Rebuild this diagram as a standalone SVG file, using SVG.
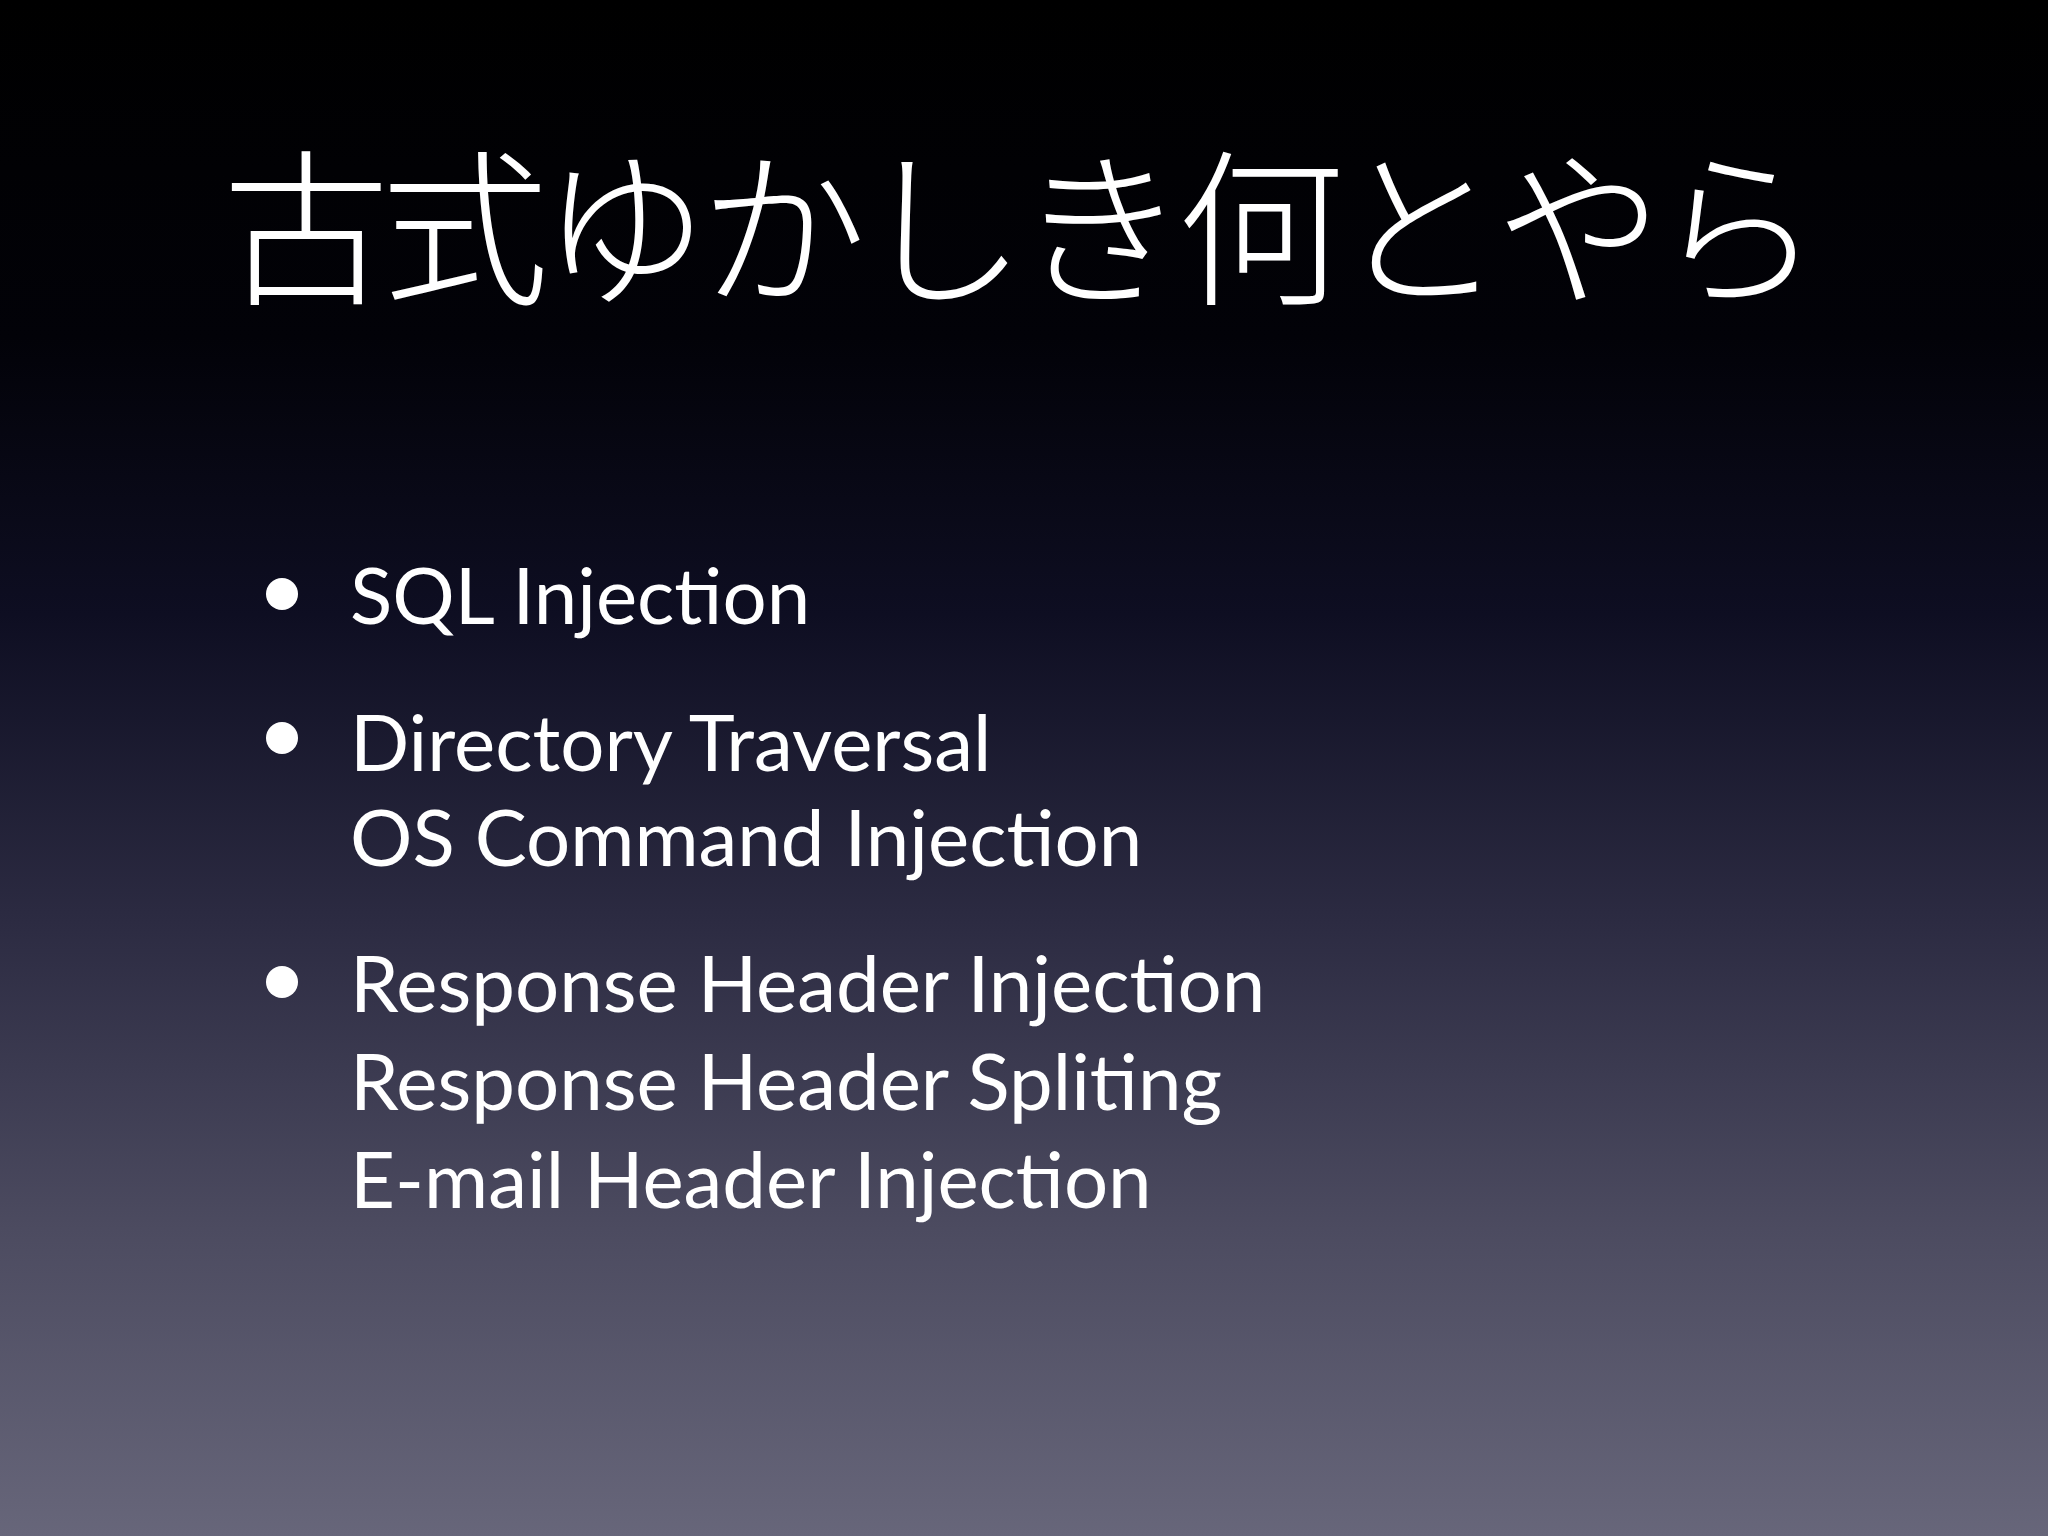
<svg xmlns="http://www.w3.org/2000/svg" width="2048" height="1536" viewBox="0 0 2048 1536">
<defs>
<linearGradient id="bg" x1="0" y1="0" x2="0" y2="1">
<stop offset="0" stop-color="#000000"/>
<stop offset="0.22" stop-color="#020208"/>
<stop offset="0.4" stop-color="#0e0e22"/>
<stop offset="0.6" stop-color="#2c2b42"/>
<stop offset="0.8" stop-color="#4c4b60"/>
<stop offset="1" stop-color="#67667a"/>
</linearGradient>
<style>
.t{fill:#fff;font-family:"Lato","Open Sans","Noto Sans",sans-serif;font-size:78px}
.h{fill:#fff;font-family:"Noto Sans CJK JP",sans-serif;font-size:168px;font-weight:300}
</style>
</defs>
<rect width="2048" height="1536" fill="url(#bg)"/>
<g id="title"><text class="h" x="222" y="292" textLength="1600">古式ゆかしき何とやら</text></g>
<g id="bullets" fill="#fff">
<circle cx="282" cy="594" r="16"/>
<circle cx="282" cy="738" r="16"/>
<circle cx="282" cy="982" r="16"/>
</g>
<g id="items">
<text class="t" x="350" y="624">SQL Injection</text>
<text class="t" x="350" y="771">Directory Traversal</text>
<text class="t" x="350" y="866">OS Command Injection</text>
<text class="t" x="350" y="1012">Response Header Injection</text>
<text class="t" x="350" y="1110">Response Header Spliting</text>
<text class="t" x="350" y="1208">E-mail Header Injection</text>
</g>
</svg>
